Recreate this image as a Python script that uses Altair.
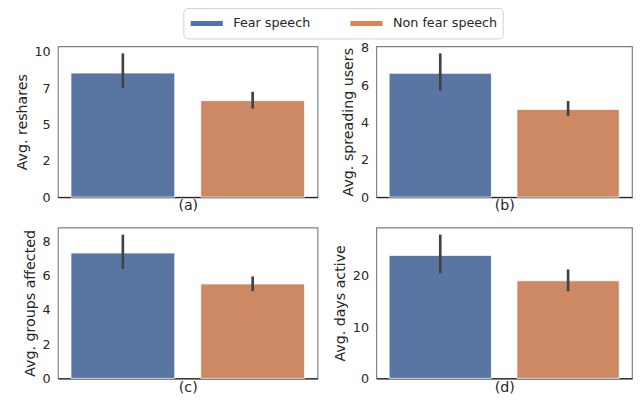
import altair as alt
import pandas as pd

groups = ["Fear speech", "Non fear speech"]
colors = ["#5975a4", "#cc8963"]
legend_colors = ["#4c72b0", "#dd8452"]
panel_labels = ["(a)", "(b)", "(c)", "(d)"]
y_titles = ["Avg. reshares", "Avg. spreading users", "Avg. groups affected", "Avg. days active"]

mean_a = [8.54, 6.64]
mean_b = [6.63, 4.70]
mean_c = [7.33, 5.52]
mean_d = [24.0, 19.05]
lo_a = [7.5, 6.09]
hi_a = [9.89, 7.25]
lo_b = [5.70, 4.35]
hi_b = [7.70, 5.15]
lo_c = [6.40, 5.10]
hi_c = [8.40, 5.96]
lo_d = [20.5, 17.0]
hi_d = [28.06, 21.26]

y_max = [10.38, 8.08, 8.82, 29.45]
tick_values = [[0, 2.5, 5, 7.5, 10], [0, 2, 4, 6, 8], [0, 2, 4, 6, 8], [0, 10, 20]]

means = [mean_a, mean_b, mean_c, mean_d]
los = [lo_a, lo_b, lo_c, lo_d]
his = [hi_a, hi_b, hi_c, hi_d]
widths = [265, 261, 265, 261]
TXT = "#262626"
FONT = "DejaVu Sans"


def panel(i):
    df = pd.DataFrame({"group": groups, "bar_group": groups, "mean": means[i],
                       "lo": los[i], "hi": his[i]})
    base = alt.Chart(df)
    xscale = alt.Scale(domain=groups, paddingInner=0.2, paddingOuter=0.1)
    xaxis = alt.Axis(
        title=panel_labels[i], labels=False, ticks=False, domain=True,
        domainColor=TXT, domainWidth=1.2, titlePadding=2,
        titleFont=FONT, titleFontSize=14.5, titleFontWeight="normal", titleColor=TXT,
    )
    yscale = alt.Scale(domain=[0, y_max[i]], nice=False, zero=True)
    yaxis = alt.Axis(
        title=y_titles[i], values=tick_values[i],
        labelExpr="'' + floor(datum.value)", labelOverlap=False,
        grid=False, ticks=False, domain=False, labelPadding=8, titlePadding=5,
        labelFont=FONT, labelFontSize=13, labelColor=TXT,
        titleFont=FONT, titleFontSize=14.5, titleFontWeight="normal", titleColor=TXT,
    )
    bars = base.mark_bar(stroke="white", strokeWidth=0.8).encode(
        x=alt.X("group:N", scale=xscale, axis=xaxis),
        y=alt.Y("mean:Q", scale=yscale, axis=yaxis),
        fill=alt.Fill("bar_group:N", scale=alt.Scale(range=colors), legend=None),
    )
    rules = base.mark_rule(color="#424242", strokeWidth=2.7).encode(
        x=alt.X("group:N", scale=xscale, axis=xaxis),
        y=alt.Y("lo:Q", scale=yscale, axis=yaxis),
        y2="hi:Q",
    )
    layers = [bars, rules]
    if i == 0:
        legend = alt.Legend(
            title=None, orient="none", direction="horizontal",
            legendX=128, legendY=-39,
            symbolType="M-1,0H3.1", symbolSize=256, symbolStrokeWidth=5,
            labelFontSize=13, labelColor=TXT, labelFont=FONT, labelOffset=25,
            columnPadding=30, padding=5, strokeColor="#d0d0d0",
            cornerRadius=4, fillColor="white",
        )
        key = base.mark_line(strokeWidth=5).encode(
            x=alt.X("group:N", scale=xscale, axis=xaxis),
            y=alt.Y("mean:Q", scale=yscale, axis=yaxis),
            color=alt.Color("group:N", scale=alt.Scale(domain=groups, range=legend_colors), legend=legend),
        )
        layers.append(key)
    return alt.layer(*layers).properties(width=widths[i], height=154)


chart = alt.concat(
    panel(0), panel(1), panel(2), panel(3), columns=2,
    spacing=alt.RowColnumber(row=13, column=13),
).properties(
    padding={"left": 5, "top": -5, "right": 0, "bottom": 0}
).configure_view(
    stroke="#808080", strokeWidth=1.2
).configure_axis(
    labelFont=FONT, titleFont=FONT, labelFontSize=13,
    titleFontSize=14.5, titleFontWeight="normal", labelColor=TXT, titleColor=TXT,
)

chart.save("out.html", embed_options={"renderer": "svg", "actions": False})
